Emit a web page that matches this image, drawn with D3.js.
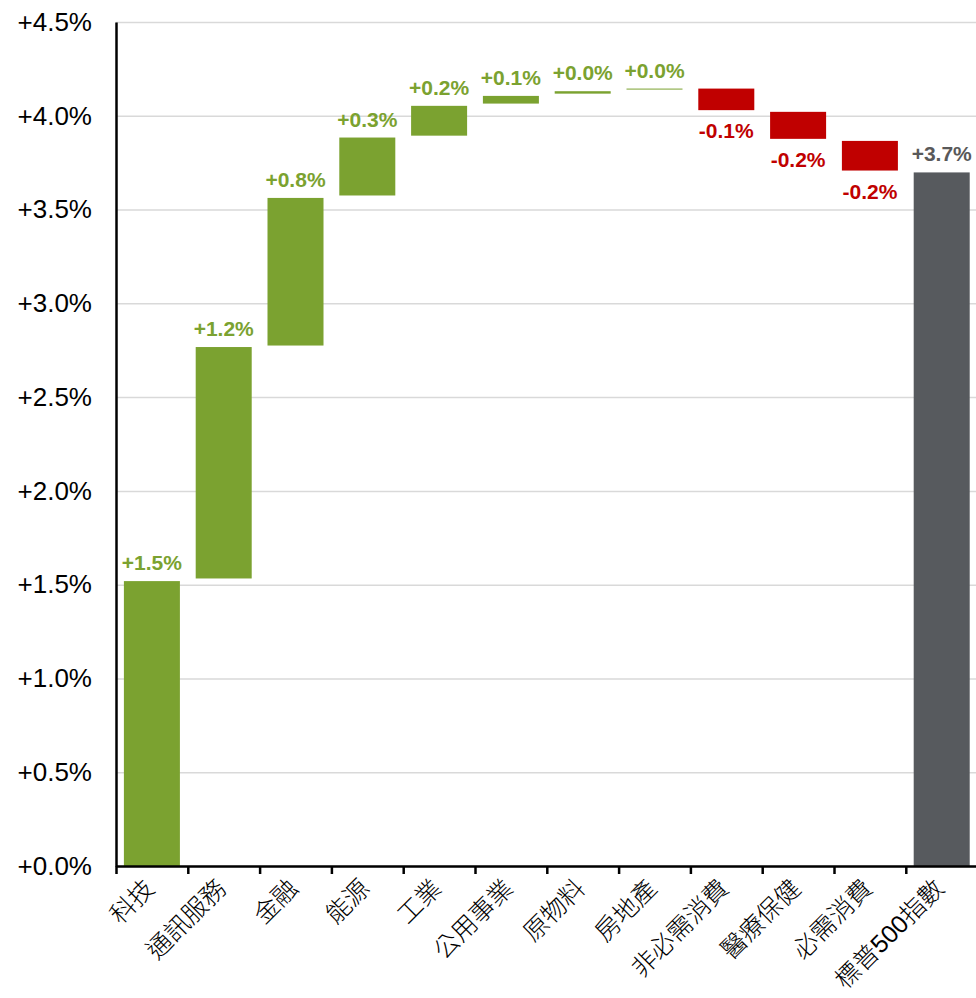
<!DOCTYPE html>
<html>
<head>
<meta charset="utf-8">
<script src="https://cdn.jsdelivr.net/npm/d3@7"></script>
<style>
  body { margin: 0; background: #fff; }
  svg { display: block; font-family: "Liberation Sans", Arial, "Noto Sans CJK TC", sans-serif; }
  .grid line { stroke: #d9d9d9; stroke-width: 1.5; }
  .grid .domain { display: none; }
  .yaxis .domain { stroke: #000; stroke-width: 2.5; }
  .yaxis text { font-size: 26px; fill: #000; font-family: "Liberation Sans", Arial, sans-serif; }
  .xaxis .domain { stroke: #000; stroke-width: 2.5; }
  .xaxis line { stroke: #000; stroke-width: 2.5; }
  .catLabel { font-size: 25px; font-weight: 300; fill: #000; }
  .valLabel { font-size: 21px; font-weight: bold; }
</style>
</head>
<body>
<script>
//Chart data
const categories = ["科技", "通訊服務", "金融", "能源", "工業", "公用事業", "原物料", "房地產", "非必需消費", "醫療保健", "必需消費", "標普500指數"];
const barLow  = [0,     1.533, 2.775, 3.575, 3.894, 4.065, 4.118, 4.140, 4.030, 3.877, 3.708, 0];
const barHigh = [1.519, 2.767, 3.562, 3.884, 4.053, 4.106, 4.131, 4.145, 4.145, 4.021, 3.866, 3.698];
const valueLabels = ["+1.5%", "+1.2%", "+0.8%", "+0.3%", "+0.2%", "+0.1%", "+0.0%", "+0.0%", "-0.1%", "-0.2%", "-0.2%", "+3.7%"];
const barKind = ["up", "up", "up", "up", "up", "up", "up", "up", "down", "down", "down", "total"];
const yTicks = [0, 0.5, 1, 1.5, 2, 2.5, 3, 3.5, 4, 4.5];

//Global layout
const width = 976;
const height = 998;
const leftX = 116;
const topY = 22;
const bottomY = 866;
const step = 71.8;
const rightX = leftX + step * categories.length;

const colors = { up: "#7ba230", down: "#c00000", total: "#575a5e" };
const labelColors = { up: "#7ba230", down: "#c00000", total: "#595959" };

//Scales
const yScale = d3.scaleLinear()
    .domain([0, 4.5])
    .range([bottomY, topY]);

const xScale = d3.scaleBand()
    .domain(categories)
    .range([leftX, rightX])
    .paddingInner(0.22)
    .paddingOuter(0.11);

const tickScale = d3.scaleLinear()
    .domain([0, categories.length])
    .range([leftX, rightX]);

//SVG element
const svg = d3.select("body")
    .append("svg")
    .attr("width", width)
    .attr("height", height);

//Gridlines
svg.append("g")
    .attr("class", "grid")
    .attr("transform", "translate(" + leftX + ",0)")
    .call(d3.axisLeft(yScale).tickValues(yTicks).tickSize(-(width - leftX)).tickFormat(""));

//Bars
svg.selectAll(".bar")
    .data(categories)
    .enter()
    .append("rect")
    .attr("class", "bar")
    .attr("x", d => xScale(d))
    .attr("width", xScale.bandwidth())
    .attr("y", (d, i) => yScale(barHigh[i]))
    .attr("height", (d, i) => Math.max(1, yScale(barLow[i]) - yScale(barHigh[i])))
    .attr("fill", (d, i) => colors[barKind[i]]);

//Value labels: above for gains and total, below for losses
svg.selectAll(".valLabel")
    .data(categories)
    .enter()
    .append("text")
    .attr("class", "valLabel")
    .attr("x", d => xScale(d) + xScale.bandwidth() / 2)
    .attr("y", (d, i) => barKind[i] === "down" ? yScale(barLow[i]) + 28 : yScale(barHigh[i]) - 11)
    .attr("text-anchor", "middle")
    .attr("fill", (d, i) => labelColors[barKind[i]])
    .text((d, i) => valueLabels[i]);

//Axes
svg.append("g")
    .attr("class", "xaxis")
    .attr("transform", "translate(0," + bottomY + ")")
    .call(d3.axisBottom(tickScale).tickValues(d3.range(categories.length + 1)).tickSize(8).tickSizeOuter(0).tickFormat(""));

svg.append("g")
    .attr("class", "yaxis")
    .attr("transform", "translate(" + leftX + ",0)")
    .call(d3.axisLeft(yScale).tickValues(yTicks).tickSize(0).tickPadding(24)
        .tickFormat(d => "+" + d.toFixed(1) + "%"));

//Category labels, rotated
svg.selectAll(".catLabel")
    .data(categories)
    .enter()
    .append("text")
    .attr("class", "catLabel")
    .attr("text-anchor", "end")
    .attr("transform", d => "translate(" + (xScale(d) + xScale.bandwidth() / 2 + 4) + "," + (bottomY + 24) + ") rotate(-45)")
    .text(d => d);
</script>
</body>
</html>
